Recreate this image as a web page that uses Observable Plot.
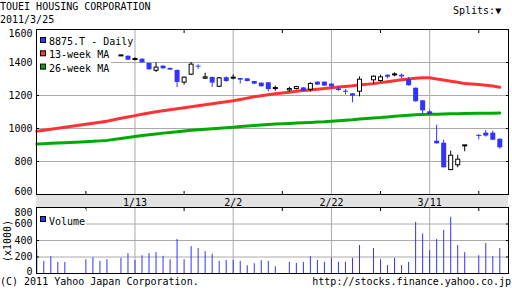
<!DOCTYPE html>
<html><head><meta charset="utf-8">
<script src="https://cdn.jsdelivr.net/npm/d3@7"></script>
<script src="https://cdn.jsdelivr.net/npm/@observablehq/plot@0.6"></script>
<style>
html,body{margin:0;padding:0;background:#fff;}
#wrap{position:relative;width:512px;height:301px;overflow:hidden;background:#fff;}
#band{position:absolute;left:36px;top:194px;width:472px;height:13px;background:#e2e2e2;}
#wrap svg{position:absolute;left:0;top:0;}
</style></head>
<body><div id="wrap"><div id="band"></div></div>
<script>
// ---- data ----
const title = "TOUEI HOUSING CORPORATION";
const dateText = "2011/3/25";
const seriesNames = ["8875.T - Daily", "13-week MA", "26-week MA"];
const volumeName = "Volume";

const dateTicks = [14, 28, 42, 56];
const dateLabels = ["1/13", "2/2", "2/22", "3/11"];
const minorTicks = [7, 21, 35, 49, 63];
const priceLabels = [600, 800, 1000, 1200, 1400, 1600];
const volLabels = [0, 200, 400, 600, 800];

const candleSlots = [12,13,14,15,16,17,18,19,20,21,22,23,24,25,26,27,28,29,30,31,32,33,34,36,37,38,39,40,41,42,43,44,45,46,48,49,50,51,52,53,54,55,56,57,58,59,60,61,63,64,65,66];
const opens  = [1440,1438,1418,1420,1394,1347,1378,1364,1352,1275,1323,1372,1299,1309,1250,1308,1305,1303,1301,1285,1275,1277,1242,1228,1236,1246,1232,1281,1281,1269,1240,1220,1210,1220,1289,1285,1323,1325,1323,1297,1244,1168,1101,923,911,745,774,895,952,972,972,935];
const highs  = [1444,1440,1428,1422,1396,1398,1380,1366,1354,1313,1400,1386,1335,1311,1309,1312,1325,1304,1302,1286,1276,1278,1257,1250,1256,1248,1277,1282,1282,1270,1252,1236,1212,1313,1319,1323,1324,1337,1329,1309,1245,1170,1111,1020,929,863,838,897,964,988,984,936];
const lows   = [1436,1412,1410,1396,1352,1339,1358,1352,1248,1263,1321,1358,1297,1248,1248,1280,1295,1269,1283,1265,1251,1222,1226,1220,1234,1224,1222,1262,1255,1240,1226,1204,1156,1192,1269,1281,1301,1313,1301,1257,1160,1087,1084,906,761,744,762,859,931,948,928,875];
const closes = [1440,1414,1418,1398,1356,1372,1362,1354,1279,1311,1390,1372,1313,1275,1307,1285,1305,1293,1285,1269,1253,1236,1242,1242,1254,1226,1273,1263,1257,1253,1230,1220,1196,1299,1317,1313,1311,1325,1313,1259,1162,1107,1085,907,762,838,814,895,952,954,929,883];
const kinds  = ["k","b","k","b","b","w","b","b","b","w","w","bd","w","b","w","b","k","b","b","b","b","b","k","w","w","b","w","b","b","b","b","bd","b","w","w","w","b","k","b","b","b","b","b","b","b","w","w","k","bd","b","b","b"];

const tradeSlots = [0,1,2,3,4,7,8,9,10,12,13,14,15,16,17,18,19,20,21,22,23,24,25,26,27,28,29,30,31,32,33,34,36,37,38,39,40,41,42,43,44,45,46,48,49,50,51,52,53,54,55,56,57,58,59,60,61,63,64,65,66];
const ma13 = [984,990,996,1002,1008,1026,1032,1038,1044,1062,1070,1078,1086,1094,1101,1108,1114,1120,1126,1132,1138,1144,1150,1156,1162,1168,1176,1184,1192,1198,1204,1210,1220,1226,1230,1234,1238,1242,1247,1251,1255,1259,1264,1272,1278,1284,1290,1296,1300,1304,1307,1307,1300,1294,1287,1280,1272,1266,1262,1258,1250];
const ma26 = [906,908,910,912,914,920,922,925,928,940,946,952,957,962,967,972,976,980,985,989,993,996,999,1002,1005,1008,1012,1015,1018,1021,1024,1027,1031,1033,1035,1037,1039,1041,1044,1047,1050,1053,1057,1063,1066,1070,1074,1077,1080,1083,1085,1086,1087,1088,1089,1090,1091,1092,1093,1093,1094];
const volumes = [286,147,204,135,135,167,192,147,167,184,241,159,216,241,253,208,167,412,167,326,302,265,233,147,159,159,147,94,118,155,147,82,135,122,135,204,159,135,184,135,135,184,339,302,167,98,184,98,135,620,477,277,412,522,681,339,253,216,363,204,302];

// ---- build ----
const BLUE = "#3333ff", RED = "#ff3333", GREEN = "#00aa00", GRID = "#aaaaaa";
const candles = candleSlots.map((s, k) => ({i: s, o: opens[k], h: highs[k], l: lows[k], c: closes[k], kind: kinds[k]}));
const ma13Data = tradeSlots.map((s, k) => ({i: s, v: ma13[k]}));
const ma26Data = tradeSlots.map((s, k) => ({i: s, v: ma26[k]}));
const volData = tradeSlots.map((s, k) => ({i: s, v: volumes[k]}));
const xDomain = [-0.04, 67.24];
const font = {fontFamily: "DejaVu Sans Mono", fontSize: "10px", background: "transparent", color: "#000", overflow: "visible"};
const none = () => "";

const down = candles.filter(d => d.kind === "b");
const up = candles.filter(d => d.kind === "w");
const dojiK = candles.filter(d => d.kind === "k");
const dojiB = candles.filter(d => d.kind === "bd");
const priceGrid = priceLabels.slice(1, -1);
const volGrid = volLabels.slice(1, -1);

const price = Plot.plot({
  width: 512, height: 301,
  marginTop: 29, marginBottom: 107, marginLeft: 36, marginRight: 4,
  x: {domain: xDomain, axis: null},
  y: {domain: [priceLabels[0], priceLabels[priceLabels.length - 1]], axis: null},
  style: font,
  marks: [
    Plot.ruleY(priceGrid, {stroke: GRID}),
    Plot.ruleX(dateTicks, {stroke: GRID}),
    Plot.line(ma13Data, {x: "i", y: "v", stroke: RED, strokeWidth: 3}),
    Plot.line(ma26Data, {x: "i", y: "v", stroke: GREEN, strokeWidth: 3}),
    Plot.ruleX(down, {x: "i", y1: "h", y2: "l", stroke: BLUE}),
    Plot.ruleX(dojiB, {x: "i", y1: "h", y2: "l", stroke: BLUE}),
    Plot.ruleX(up, {x: "i", y1: "h", y2: "l", stroke: "#000"}),
    Plot.ruleX(dojiK, {x: "i", y1: "h", y2: "l", stroke: "#000"}),
    Plot.ruleX(down, {x: "i", y1: "o", y2: "c", stroke: BLUE, strokeWidth: 5, strokeLinecap: "butt"}),
    Plot.ruleX(up, {x: "i", y1: "c", y2: "o", stroke: "#000", strokeWidth: 5, strokeLinecap: "butt"}),
    Plot.ruleX(up, {x: "i", y1: "c", y2: "o", stroke: "#fff", strokeWidth: 3, insetTop: 1, insetBottom: 1, strokeLinecap: "butt"}),
    Plot.ruleX(dojiK, {x: "i", y1: "o", y2: "c", stroke: "#000", strokeWidth: 5, insetTop: -1, insetBottom: -1, strokeLinecap: "butt"}),
    Plot.ruleX(dojiB, {x: "i", y1: "o", y2: "c", stroke: BLUE, strokeWidth: 5, insetTop: -1, insetBottom: 0, strokeLinecap: "butt"}),
    Plot.frame({stroke: "#000"}),
    Plot.axisY(priceGrid, {anchor: "left", tickSize: 3, dx: 3, tickFormat: none, label: null}),
    Plot.axisY(priceGrid, {anchor: "right", tickSize: 3, dx: -3, tickFormat: none, label: null}),
    Plot.axisX(minorTicks, {anchor: "top", tickSize: 3, dy: 3, tickFormat: none, label: null}),
    Plot.axisX(minorTicks, {anchor: "bottom", tickSize: 3, dy: -3, tickFormat: none, label: null}),
    Plot.axisY(priceGrid, {anchor: "left", tickSize: 0, tickPadding: 4, tickFormat: d => String(d), label: null}),
    Plot.axisY([priceLabels[priceLabels.length - 1]], {anchor: "left", tickSize: 0, tickPadding: 4, dy: 4, tickFormat: d => String(d), label: null}),
    Plot.axisY([priceLabels[0]], {anchor: "left", tickSize: 0, tickPadding: 4, dy: -2.5, tickFormat: d => String(d), label: null}),
    Plot.axisX(dateTicks, {anchor: "bottom", tickSize: 0, tickPadding: 4, tickFormat: d => dateLabels[dateTicks.indexOf(d)], label: null})
  ]
});

const volume = Plot.plot({
  width: 512, height: 301,
  marginTop: 207, marginBottom: 28, marginLeft: 36, marginRight: 4,
  x: {domain: xDomain, axis: null},
  y: {domain: [volLabels[0], volLabels[volLabels.length - 1]], axis: null},
  style: font,
  marks: [
    Plot.ruleY(volGrid, {stroke: GRID}),
    Plot.ruleX(dateTicks, {stroke: GRID}),
    Plot.ruleX(volData, {x: "i", y1: () => 0, y2: "v", stroke: BLUE}),
    Plot.frame({stroke: "#000"}),
    Plot.axisY(volGrid, {anchor: "left", tickSize: 3, dx: 3, tickFormat: none, label: null}),
    Plot.axisY(volGrid, {anchor: "right", tickSize: 3, dx: -3, tickFormat: none, label: null}),
    Plot.axisX(minorTicks, {anchor: "top", tickSize: 3, dy: 3, tickFormat: none, label: null}),
    Plot.axisY(volGrid, {anchor: "left", tickSize: 0, tickPadding: 4, tickFormat: d => String(d), label: null}),
    Plot.axisY([volLabels[volLabels.length - 1]], {anchor: "left", tickSize: 0, tickPadding: 4, dy: 5, tickFormat: d => String(d), label: null}),
    Plot.axisY([volLabels[0]], {anchor: "left", tickSize: 0, tickPadding: 4, dy: -2, tickFormat: d => String(d), label: null})
  ]
});

const wrap = document.getElementById("wrap");
wrap.appendChild(price);
wrap.appendChild(volume);

// ---- overlay: titles, legends, footer ----
const ov = d3.select(wrap).append("svg")
  .attr("width", 512).attr("height", 301)
  .style("font-family", "DejaVu Sans Mono").style("font-size", "10px");
const txt = (x, y, s, anchor = "start") => ov.append("text").attr("x", x).attr("y", y).attr("text-anchor", anchor).attr("fill", "#000").text(s);
txt(0, 10, title);
txt(0, 23, dateText);
txt(453, 14, "Splits:\u25BC");
txt(0, 285, "(C) 2011 Yahoo Japan Corporation.");
txt(511, 285, "http://stocks.finance.yahoo.co.jp", "end");
ov.append("text").attr("transform", "translate(10.5,241) rotate(-90)").attr("text-anchor", "middle").text("(x1000)");

ov.append("rect").attr("x", 37).attr("y", 30).attr("width", 74).attr("height", 42).attr("fill", "#fff");
const swatchColors = [BLUE, RED, GREEN];
seriesNames.forEach((name, k) => {
  ov.append("rect").attr("x", 40.5).attr("y", 37.5 + 13.3 * k).attr("width", 5).attr("height", 5)
    .attr("fill", swatchColors[k]).attr("stroke", "#000");
  txt(49, 45 + 13.3 * k, name);
});
ov.append("rect").attr("x", 37).attr("y", 209).attr("width", 49).attr("height", 18).attr("fill", "#fff");
ov.append("rect").attr("x", 40.5).attr("y", 216.5).attr("width", 5).attr("height", 5).attr("fill", BLUE).attr("stroke", "#000");
txt(49, 224.5, volumeName);
</script>
</body></html>
